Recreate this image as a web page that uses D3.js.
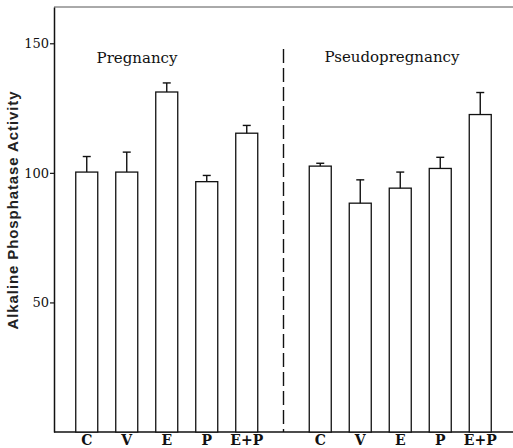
<!DOCTYPE html>
<html>
<head>
<meta charset="utf-8">
<script src="https://cdn.jsdelivr.net/npm/d3@7"></script>
<style>
  body { margin: 0; background: #fff; }
  svg { display: block; }
</style>
</head>
<body>
<div id="chart"></div>
<script>
const groups = ['Pregnancy', 'Pseudopregnancy'];
const treatments = ['C', 'V', 'E', 'P', 'E+P'];
const pregnancyMean = [100.3, 100.3, 131.2, 96.6, 115.3];
const pregnancyErr = [6.0, 7.7, 3.5, 2.4, 3.0];
const pseudoMean = [102.6, 88.3, 94.1, 101.7, 122.5];
const pseudoErr = [1.1, 9.0, 6.2, 4.3, 8.5];
const yTicks = [50, 100, 150];

const width = 513;
const height = 448;
const margin = { top: 7, right: 0, bottom: 16, left: 54 };

const rows = [];
groups.forEach((g, gi) => {
    const means = gi === 0 ? pregnancyMean : pseudoMean;
    const errs = gi === 0 ? pregnancyErr : pseudoErr;
    treatments.forEach((t, i) => rows.push({ group: g, treatment: t, mean: means[i], err: errs[i] }));
});

const svg = d3.select('#chart')
    .append('svg')
    .attr('width', width)
    .attr('height', height);

const yScale = d3.scaleLinear()
    .domain([0, 164])
    .range([height - margin.bottom, margin.top]);

const xGroup = d3.scaleBand()
    .domain(groups)
    .range([margin.left, width - margin.right])
    .paddingInner(0.1435)
    .paddingOuter(0.0546);

const xInner = d3.scaleBand()
    .domain(treatments)
    .range([0, xGroup.bandwidth()])
    .paddingInner(0.45)
    .paddingOuter(0.225);

const x = (d) => xGroup(d.group) + xInner(d.treatment);

// frame: top line and baseline
svg.append('line')
    .attr('x1', margin.left).attr('x2', width)
    .attr('y1', margin.top).attr('y2', margin.top)
    .attr('stroke', '#555').attr('stroke-width', 1);

svg.append('line')
    .attr('x1', margin.left).attr('x2', width)
    .attr('y1', yScale(0)).attr('y2', yScale(0))
    .attr('stroke', '#111').attr('stroke-width', 1.5);

// y axis
const yAxis = svg.append('g')
    .attr('transform', `translate(${margin.left},0)`)
    .call(d3.axisLeft(yScale).tickValues(yTicks).tickSize(4).tickSizeOuter(0));
yAxis.select('.domain').attr('stroke', '#111').attr('stroke-width', 1.5);
yAxis.selectAll('.tick line').attr('stroke', '#111').attr('stroke-width', 1.2);
yAxis.selectAll('.tick text')
    .attr('x', -5)
    .attr('font-family', '"DejaVu Serif", serif')
    .attr('font-size', 13)
    .attr('fill', '#111');

// divider between groups
const divX = xGroup('Pseudopregnancy') - (xGroup.step() - xGroup.bandwidth()) / 2;
svg.append('line')
    .attr('x1', divX).attr('x2', divX)
    .attr('y1', 49).attr('y2', yScale(0))
    .attr('stroke', '#111').attr('stroke-width', 1.4)
    .attr('stroke-dasharray', '14,5');

// bars
svg.append('g')
    .selectAll('rect')
    .data(rows)
    .join('rect')
    .attr('x', (d) => x(d))
    .attr('y', (d) => yScale(d.mean))
    .attr('width', xInner.bandwidth())
    .attr('height', (d) => yScale(0) - yScale(d.mean))
    .attr('fill', '#fff')
    .attr('stroke', '#111')
    .attr('stroke-width', 1.3);

// error bars (upper only)
const err = svg.append('g')
    .attr('stroke', '#111')
    .attr('stroke-width', 1.4)
    .selectAll('g')
    .data(rows)
    .join('g');

err.append('line')
    .attr('x1', (d) => x(d) + xInner.bandwidth() / 2)
    .attr('x2', (d) => x(d) + xInner.bandwidth() / 2)
    .attr('y1', (d) => yScale(d.mean))
    .attr('y2', (d) => yScale(d.mean + d.err));

err.append('line')
    .attr('x1', (d) => x(d) + xInner.bandwidth() / 2 - 4)
    .attr('x2', (d) => x(d) + xInner.bandwidth() / 2 + 4)
    .attr('y1', (d) => yScale(d.mean + d.err))
    .attr('y2', (d) => yScale(d.mean + d.err));

// x labels
groups.forEach((g) => {
    const ax = svg.append('g')
        .attr('transform', `translate(${xGroup(g)},${yScale(0)})`)
        .call(d3.axisBottom(xInner).tickSize(0).tickPadding(3));
    ax.select('.domain').remove();
    ax.selectAll('text')
        .attr('font-family', '"DejaVu Serif", serif')
        .attr('font-weight', 'bold')
        .attr('font-size', 14)
        .attr('fill', '#111');
});

// group titles
svg.append('text')
    .attr('x', 137).attr('y', 63)
    .attr('text-anchor', 'middle')
    .attr('font-family', '"DejaVu Serif", serif')
    .attr('font-size', 15)
    .attr('fill', '#111')
    .text('Pregnancy');

svg.append('text')
    .attr('x', 392).attr('y', 62)
    .attr('text-anchor', 'middle')
    .attr('font-family', '"DejaVu Serif", serif')
    .attr('font-size', 15)
    .attr('fill', '#111')
    .text('Pseudopregnancy');

// y title
svg.append('text')
    .attr('transform', 'translate(18,210) rotate(-90)')
    .attr('text-anchor', 'middle')
    .attr('font-family', '"Liberation Sans", Arial, sans-serif')
    .attr('font-weight', 'bold')
    .attr('font-size', 15)
    .attr('letter-spacing', 0.9)
    .attr('fill', '#222')
    .text('Alkaline Phosphatase Activity');
</script>
</body>
</html>
